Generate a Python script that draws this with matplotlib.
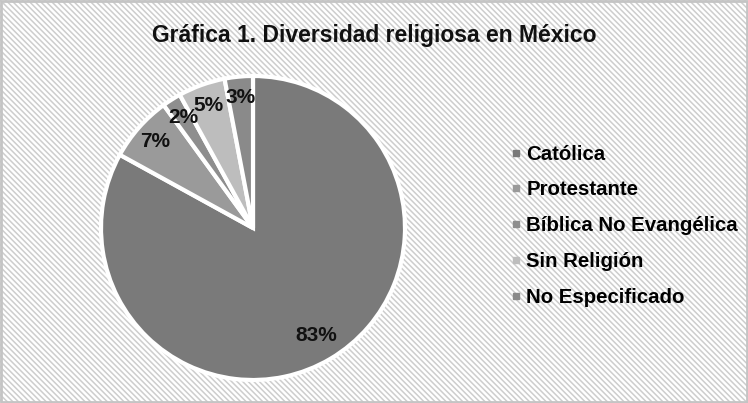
import matplotlib
matplotlib.use("Agg")
import matplotlib.pyplot as plt
from matplotlib.patches import Rectangle
from matplotlib.lines import Line2D

plt.rcParams['font.family'] = ['Liberation Sans', 'DejaVu Sans']
plt.rcParams['hatch.linewidth'] = 1.1
plt.rcParams['hatch.color'] = '#cdcdcd'

# datos
categorias = ['Católica', 'Protestante', 'Bíblica No Evangélica', 'Sin Religión', 'No Especificado']
porcentajes = [83, 7, 2, 5, 3]
colores = ['#7a7a7a', '#9a9a9a', '#8e8e8e', '#bdbdbd', '#8a8a8a']
titulo = 'Gráfica 1. Diversidad religiosa en México'

fig = plt.figure(figsize=(7.48, 4.03), dpi=100)
fig.patch.set_facecolor('white')

# fondo rayado
fondo = Rectangle((0, 0), 1, 1, transform=fig.transFigure, facecolor='white',
                  edgecolor='#cdcdcd', hatch='\\' * 6, linewidth=0, zorder=-10)
fig.patches.append(fondo)
borde = Rectangle((0.002, 0.003), 0.996, 0.994, transform=fig.transFigure, facecolor='none',
                  edgecolor='#c4c4c4', linewidth=2, zorder=-5)
fig.patches.append(borde)

# centro del pastel (253, 228) px, radio 152 px
cx, cy, r = 253, 228, 152
W, H = 748, 403
ax = fig.add_axes([(cx - r) / W, (H - cy - r) / H, 2 * r / W, 2 * r / H])
wedges, textos, autotextos = ax.pie(
    porcentajes, colors=colores, startangle=90, counterclock=False,
    autopct='%1.0f%%', pctdistance=0.86,
    wedgeprops=dict(edgecolor='white', linewidth=3),
    textprops=dict(fontsize=15, fontweight='bold', color='#111111'))
autotextos[0].set_position((0.82 * 0.51, -0.82 * 0.86))
ax.set_xlim(-1, 1)
ax.set_ylim(-1, 1)
ax.set_aspect('equal')
for w in wedges:
    w.set_clip_on(False)

fig.text(0.5, 0.913, titulo, ha='center', va='center', fontsize=16.5, fontweight='bold', color='#111111')

handles = [Line2D([], [], marker='s', linestyle='none', markersize=5, color=c) for c in colores]
fig.legend(handles, categorias, loc='center left', bbox_to_anchor=(0.66, 0.44), frameon=False,
           handlelength=0.35, handletextpad=0.35, labelspacing=0.82,
           prop=dict(size=14.7, weight='bold'))

fig.savefig('out.png', dpi=100, facecolor=fig.get_facecolor())
